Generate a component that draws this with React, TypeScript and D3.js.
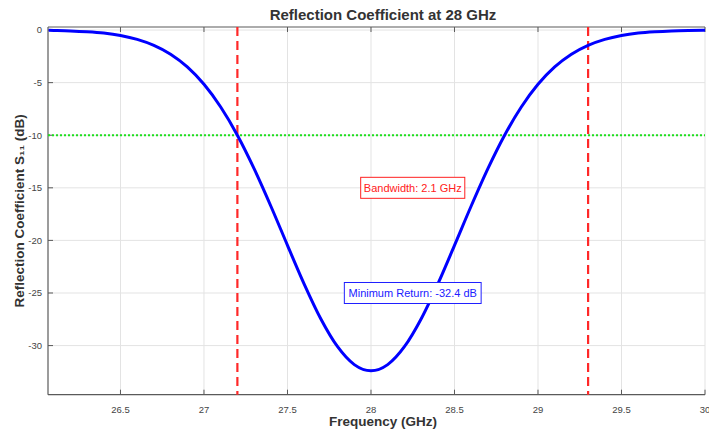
import React from 'react';
import * as d3 from 'd3';

const W = 709;
const H = 432;

// S11 curve
const freqs = [
  26.07, 26.1, 26.2, 26.3, 26.4, 26.5, 26.6, 26.7, 26.8, 26.9, 27.0, 27.1, 27.2, 27.3, 27.4, 27.5,
  27.6, 27.7, 27.8, 27.9, 28.0, 28.1, 28.2, 28.3, 28.4, 28.5, 28.6, 28.7, 28.8, 28.9, 29.0,
  29.1, 29.2, 29.3, 29.4, 29.5, 29.6, 29.7, 29.8, 29.9, 30.0,
];
const s11 = [
  -0.03, -0.04, -0.08, -0.16, -0.29, -0.52, -0.89, -1.46, -2.3, -3.51, -5.16, -7.32, -10.0, -13.18, -16.73, -20.47,
  -24.15, -27.47, -30.11, -31.81, -32.4, -31.81, -30.11, -27.47, -24.15, -20.47, -16.73, -13.18, -10.0, -7.32, -5.16,
  -3.51, -2.3, -1.46, -0.89, -0.52, -0.29, -0.16, -0.08, -0.04, -0.02,
];
const xTicks = [26.5, 27, 27.5, 28, 28.5, 29, 29.5, 30];
const yTicks = [0, -5, -10, -15, -20, -25, -30];
const bandEdges = [27.2, 29.3];
const threshold = -10;
const notes = [
  { text: 'Bandwidth: 2.1 GHz', f: 28.25, db: -15, color: '#ff2020' },
  { text: 'Minimum Return: -32.4 dB', f: 28.25, db: -25, color: '#2020ff' },
];

const left = 48;
const right = 705;
const top = 27;
const bottom = 394.7;

export default function App() {
  const x = d3.scaleLinear().domain([26.066, 30]).range([left, right]);
  const y = d3.scaleLinear().domain([-34.67, 0.29]).range([bottom, top]);

  const pts = freqs.map((f, i) => [f, s11[i]] as [number, number]);
  const line = d3.line<[number, number]>()
    .x((d) => x(d[0]))
    .y((d) => y(d[1]))
    .curve(d3.curveMonotoneX);

  const font = '"Liberation Sans", Arial, sans-serif';
  const axisColor = '#5a5a5a';

  return (
    <div style={{ position: 'fixed', left: 0, top: 0 }}>
      <svg width={W} height={H} style={{ display: 'block', background: '#fff' }} fontFamily={font}>
        {/* grid */}
        {xTicks.map((t) => (
          <line key={'gx' + t} x1={x(t)} x2={x(t)} y1={top} y2={bottom} stroke="#e3e3e3" strokeWidth={1} />
        ))}
        {yTicks.map((t) => (
          <line key={'gy' + t} x1={left} x2={right} y1={y(t)} y2={y(t)} stroke="#e3e3e3" strokeWidth={1} />
        ))}

        {/* axes box: left, top, bottom */}
        <line x1={left} x2={left} y1={top} y2={bottom} stroke={axisColor} strokeWidth={1.2} />
        <line x1={left} x2={right} y1={top} y2={top} stroke={axisColor} strokeWidth={1.2} />
        <line x1={left} x2={right} y1={bottom} y2={bottom} stroke={axisColor} strokeWidth={1.2} />
        {xTicks.map((t) => (
          <g key={'tx' + t}>
            <line x1={x(t)} x2={x(t)} y1={bottom} y2={bottom - 5} stroke={axisColor} strokeWidth={1} />
            <line x1={x(t)} x2={x(t)} y1={top} y2={top + 5} stroke={axisColor} strokeWidth={1} />
            <text x={x(t)} y={bottom + 18} fontSize={9.5} fill="#444" textAnchor="middle">{t}</text>
          </g>
        ))}
        {yTicks.map((t) => (
          <g key={'ty' + t}>
            <line x1={left} x2={left + 5} y1={y(t)} y2={y(t)} stroke={axisColor} strokeWidth={1} />
            <text x={left - 6} y={y(t)} dy="0.35em" fontSize={9.5} fill="#444" textAnchor="end">{t}</text>
          </g>
        ))}

        {/* -10 dB threshold */}
        <line x1={left} x2={right} y1={y(threshold)} y2={y(threshold)} stroke="#1ee01e" strokeWidth={2} strokeDasharray="2,2" />

        {/* band edges */}
        {bandEdges.map((f) => (
          <line key={'be' + f} x1={x(f)} x2={x(f)} y1={top} y2={bottom} stroke="#ff2828" strokeWidth={2.2} strokeDasharray="9,5" />
        ))}

        {/* S11 curve */}
        <path d={line(pts) ?? ''} fill="none" stroke="#0000ff" strokeWidth={3} />

        {/* annotations */}
        {notes.map((n) => {
          const w = n.text.length * 5.45 + 6;
          return (
            <g key={n.text}>
              <rect x={x(n.f) - w / 2} y={y(n.db) - 10.5} width={w} height={21} fill="#fff" stroke={n.color} strokeWidth={1} />
              <text x={x(n.f)} y={y(n.db)} dy="0.35em" fontSize={11} fill={n.color} textAnchor="middle">{n.text}</text>
            </g>
          );
        })}

        {/* title & labels */}
        <text x={383} y={20} fontSize={15} fontWeight="bold" fill="#333" textAnchor="middle">Reflection Coefficient at 28 GHz</text>
        <text x={383} y={426} fontSize={13.5} fontWeight="bold" fill="#333" textAnchor="middle">Frequency (GHz)</text>
        <text transform={`translate(24, ${(top + bottom) / 2}) rotate(-90)`} fontSize={13.5} fontWeight="bold" fill="#333" textAnchor="middle">Reflection Coefficient S₁₁ (dB)</text>
      </svg>
    </div>
  );
}
